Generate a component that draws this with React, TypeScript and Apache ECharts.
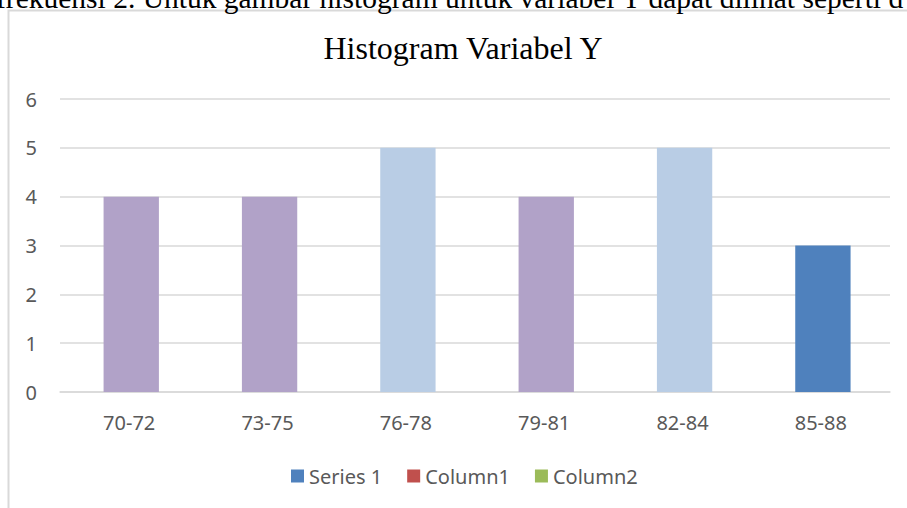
import React, { useEffect, useRef } from "react";
import * as echarts from "echarts";

const categories = ["70-72", "73-75", "76-78", "79-81", "82-84", "85-88"];
const seriesValues = [4, 4, 5, 4, 5, 3];
const barColors = ["#B1A2C8", "#B1A2C8", "#B9CDE5", "#B1A2C8", "#B9CDE5", "#4F81BD"];
const legendNames = ["Series 1", "Column1", "Column2"];
const legendColors = ["#4F81BD", "#C0504D", "#9BBB59"];
const yTicks = [0, 1, 2, 3, 4, 5, 6];
const chartTitle = "Histogram Variabel Y";
const pageText = "frekuensi 2. Untuk gambar histogram untuk variabel Y dapat dilihat seperti d";

export default function App() {
  const ref = useRef<HTMLDivElement>(null);
  useEffect(() => {
    if (!ref.current) return;
    const chart = echarts.init(ref.current, null, { renderer: "svg" });
    chart.setOption({
      animation: false,
      backgroundColor: "#ffffff",
      graphic: [
        {
          type: "rect",
          shape: { x: 8.5, y: 10.5, width: 1000, height: 600 },
          style: { fill: "none", stroke: "#D9D9D9", lineWidth: 2 },
          silent: true,
        },
        {
          type: "text",
          x: -4,
          y: -2.5,
          style: {
            text: pageText,
            font: "29.5px 'Liberation Serif'",
            fill: "#000000",
            verticalAlign: "middle",
          },
          silent: true,
        },
        {
          type: "text",
          x: 463,
          y: 48,
          style: {
            text: chartTitle,
            font: "32px 'Liberation Serif'",
            fill: "#000000",
            align: "center",
            verticalAlign: "middle",
          },
          silent: true,
        },
      ],
      legend: {
        data: legendNames,
        left: 291,
        top: 466,
        padding: 0,
        itemWidth: 13,
        itemHeight: 13,
        itemGap: 25,
        icon: "rect",
        textStyle: { fontFamily: "Noto Sans", fontSize: 20, color: "#595959" },
      },
      grid: { left: 60, right: 17, top: 99, bottom: 116 },
      xAxis: {
        type: "category",
        data: categories,
        axisLine: { lineStyle: { color: "#D9D9D9", width: 1.5 } },
        axisTick: { show: false },
        axisLabel: { fontFamily: "Noto Sans", fontSize: 20, color: "#595959", margin: 20 },
      },
      yAxis: {
        type: "value",
        min: yTicks[0],
        max: yTicks[yTicks.length - 1],
        interval: 1,
        axisLine: { show: false },
        axisTick: { show: false },
        splitLine: { lineStyle: { color: "#D9D9D9", width: 1.5 } },
        axisLabel: { fontFamily: "Noto Sans", fontSize: 20, color: "#595959", margin: 23 },
      },
      series: [
        {
          name: legendNames[0],
          type: "bar",
          barWidth: "40%",
          barGap: "-100%",
          itemStyle: { color: legendColors[0] },
          data: seriesValues.map((v, i) => ({ value: v, itemStyle: { color: barColors[i] } })),
        },
        {
          name: legendNames[1],
          type: "bar",
          barGap: "-100%",
          itemStyle: { color: legendColors[1] },
          data: [],
        },
        {
          name: legendNames[2],
          type: "bar",
          barGap: "-100%",
          itemStyle: { color: legendColors[2] },
          data: [],
        },
      ],
    });
    return () => chart.dispose();
  }, []);
  return (
    <div
      ref={ref}
      style={{ position: "absolute", left: 0, top: 0, width: 907, height: 508 }}
    />
  );
}
